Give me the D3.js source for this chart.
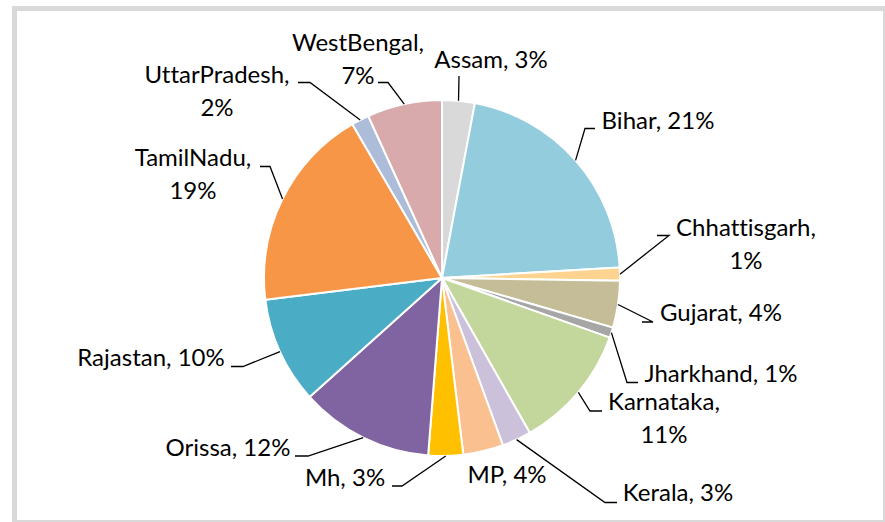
<!DOCTYPE html>
<html>
<head>
<meta charset="utf-8">
<script src="https://cdn.jsdelivr.net/npm/d3@7"></script>
<style>
  html, body { margin: 0; padding: 0; background: #ffffff; }
  svg { display: block; }
  text { font-family: Lato, "Open Sans", sans-serif; font-size: 24px; fill: #000; font-variant-ligatures: none; }
</style>
</head>
<body>
<svg id="chart" width="885" height="522"></svg>
<script>
// Share of each state (percent), in drawing order clockwise from 12 o'clock
const states = ["Assam", "Bihar", "Chhattisgarh", "Gujarat", "Jharkhand", "Karnataka",
                "Kerala", "MP", "Mh", "Orissa", "Rajastan", "TamilNadu", "UttarPradesh", "WestBengal"];
const shares = [2.96, 21.1, 1.2, 4.24, 0.94, 11.36, 2.65, 3.65, 3.15, 12.12, 9.7, 18.55, 1.6, 6.8];
const sliceColors = ["#d9d9d9", "#93cddd", "#fed38f", "#c4bd97", "#a6a6a6", "#c3d69b",
                     "#ccc1da", "#fac090", "#ffc000", "#8064a2", "#4bacc6", "#f79646", "#adbcd9", "#d9aaab"];

// Label placement: text centre x, first-line baseline y, whether the label wraps,
// and the elbow points of its leader line (from the slice side outwards).
const labelLayout = [
  { x: 491, y: 68,  wrap: false, elbow: [[459, 76]] },
  { x: 658, y: 129, wrap: false, elbow: [[585, 128.5], [595, 128.5]] },
  { x: 746, y: 236, wrap: true,  elbow: [[669, 235.5], [657, 235.5]] },
  { x: 721, y: 321, wrap: false, elbow: [[653, 322], [642, 322]] },
  { x: 721, y: 382, wrap: false, elbow: [[627, 382.5], [638, 382.5]] },
  { x: 664, y: 410, wrap: true,  elbow: [[590, 411], [602, 411]] },
  { x: 678, y: 501, wrap: false, elbow: [[605, 502.5], [617, 502.5]] },
  { x: 507, y: 483, wrap: false, elbow: [] },
  { x: 345, y: 486, wrap: false, elbow: [[402, 486], [392, 486]] },
  { x: 228, y: 456, wrap: false, elbow: [[308, 456], [295, 456]] },
  { x: 151, y: 366, wrap: false, elbow: [[243, 366.5], [231, 366.5]] },
  { x: 193, y: 166, wrap: true,  elbow: [[270, 166.5], [260, 166.5]] },
  { x: 217, y: 83,  wrap: true,  elbow: [[310, 82.5], [298, 82.5]] },
  { x: 358, y: 51,  wrap: true,  elbow: [[388, 82.5], [378, 82.5]] }
];

const svg = d3.select("#chart");
const cx = 442, cy = 278, radius = 178;
const lineGap = 32.5;

// chart frame
svg.append("rect")
  .attr("x", 14.5).attr("y", 8.5)
  .attr("width", 871).attr("height", 514)
  .attr("fill", "#ffffff")
  .attr("stroke", "#d9d9d9")
  .attr("stroke-width", 5);

const data = states.map((s, i) => ({ name: s, value: shares[i], color: sliceColors[i], layout: labelLayout[i] }));
const total = d3.sum(shares);

const pie = d3.pie().sort(null).value(d => d.value).startAngle(0).endAngle(2 * Math.PI);
const arc = d3.arc().innerRadius(0).outerRadius(radius);
const arcs = pie(data);

const g = svg.append("g").attr("transform", `translate(${cx},${cy})`);

g.selectAll("path.slice")
  .data(arcs)
  .join("path")
  .attr("class", "slice")
  .attr("d", arc)
  .attr("fill", d => d.data.color)
  .attr("stroke", "#ffffff")
  .attr("stroke-width", 2)
  .attr("stroke-linejoin", "round");

// leader lines: from the slice's outer mid-point to the label
const edgePoint = d => {
  const a = (d.startAngle + d.endAngle) / 2;
  return [cx + radius * Math.sin(a), cy - radius * Math.cos(a)];
};

svg.append("g")
  .selectAll("path.leader")
  .data(arcs.filter(d => d.data.layout.elbow.length))
  .join("path")
  .attr("class", "leader")
  .attr("d", d => d3.line()([edgePoint(d), ...d.data.layout.elbow]))
  .attr("fill", "none")
  .attr("stroke", "#000")
  .attr("stroke-width", 1.3);

// labels: "Name, NN%"
const labels = svg.append("g")
  .selectAll("text")
  .data(arcs)
  .join("text")
  .attr("text-anchor", "middle")
  .attr("x", d => d.data.layout.x)
  .attr("y", d => d.data.layout.y);

labels.each(function (d) {
  const pct = Math.round(d.data.value / total * 100) + "%";
  const t = d3.select(this);
  if (d.data.layout.wrap) {
    t.append("tspan").attr("x", d.data.layout.x).text(d.data.name + ",");
    t.append("tspan").attr("x", d.data.layout.x).attr("dy", lineGap).text(pct);
  } else {
    t.text(d.data.name + ", " + pct);
  }
});
</script>
</body>
</html>
